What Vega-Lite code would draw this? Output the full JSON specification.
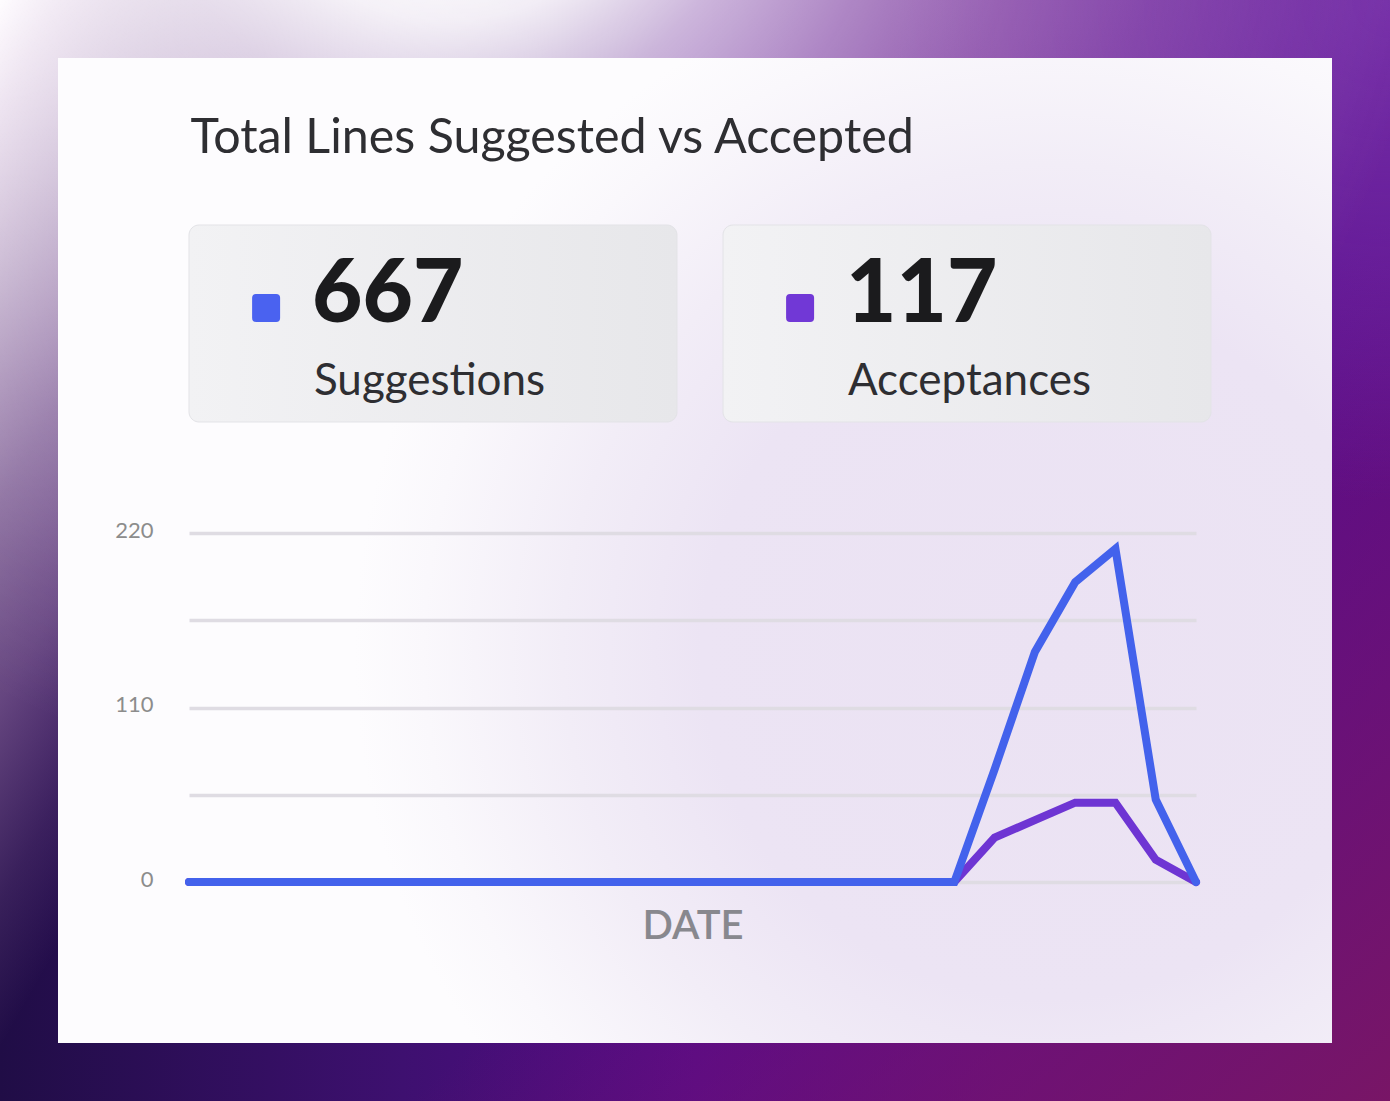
{
  "$schema": "https://vega.github.io/schema/vega-lite/v6.json",
  "width": 1390,
  "height": 1101,
  "autosize": {"type": "none"},
  "padding": 0,
  "background": "#5a0a88",
  "view": {
    "stroke": null,
    "fill": {"gradient": "radial", "x1": 0.755, "y1": 0.572, "r1": 0, "x2": 0.755, "y2": 0.572, "r2": 0.5,
      "stops": [{"offset": 0, "color": "#ebe2f3"}, {"offset": 0.5, "color": "#ece4f4"}, {"offset": 0.7, "color": "#f2edf7"}, {"offset": 0.9, "color": "#faf8fc"}, {"offset": 1, "color": "#fdfcfe"}]}
  },
  "config": {"font": "Lato"},
  "layer": [
    {
      "data": {"values": [{}]},
      "mark": {"type": "rect", "filled": false, "strokeWidth": 116,
        "stroke": {"gradient": "linear", "x1": 0, "y1": 0, "x2": 1, "y2": 0,
          "stops": [{"offset": 0, "color": "#200d46"}, {"offset": 0.29, "color": "#3e1070"}, {"offset": 0.5, "color": "#570a8a"}, {"offset": 0.72, "color": "#600c88"}, {"offset": 1, "color": "#580c8c"}]}},
      "encoding": {}
    },
    {
      "data": {"values": [{}]},
      "mark": {"type": "rect", "filled": false, "strokeWidth": 116,
        "stroke": {"gradient": "linear", "x1": 0.6, "y1": 0.65, "x2": 1, "y2": 1,
          "stops": [{"offset": 0, "color": "rgba(122,22,100,0)"}, {"offset": 1, "color": "rgba(122,22,100,0.95)"}]}},
      "encoding": {}
    },
    {
      "data": {"values": [{}]},
      "mark": {"type": "rect", "filled": false, "strokeWidth": 116,
        "stroke": {"gradient": "radial", "x1": 1, "y1": 0.104, "r1": 0, "x2": 1, "y2": 0.104, "r2": 0.36,
          "stops": [{"offset": 0, "color": "rgba(122,52,172,0.85)"}, {"offset": 0.5, "color": "rgba(122,52,172,0.45)"}, {"offset": 1, "color": "rgba(122,52,172,0)"}]}},
      "encoding": {}
    },
    {
      "data": {"values": [{}]},
      "mark": {"type": "rect", "filled": false, "strokeWidth": 116,
        "stroke": {"gradient": "linear", "x1": 0, "y1": 0, "x2": 0.358, "y2": 0.162,
          "stops": [{"offset": 0, "color": "rgba(255,250,255,1)"}, {"offset": 0.1, "color": "rgba(255,240,255,0.88)"}, {"offset": 0.29, "color": "rgba(255,230,255,0.66)"}, {"offset": 0.48, "color": "rgba(255,212,255,0.46)"}, {"offset": 0.67, "color": "rgba(255,195,255,0.31)"}, {"offset": 0.86, "color": "rgba(255,185,255,0.11)"}, {"offset": 1, "color": "rgba(255,185,255,0)"}]}},
      "encoding": {}
    },
    {
      "data": {"values": [{}]},
      "mark": {"type": "rect", "filled": false, "strokeWidth": 116,
        "stroke": {"gradient": "radial", "x1": 0.324, "y1": -0.04, "r1": 0, "x2": 0.324, "y2": -0.04, "r2": 0.72,
          "stops": [{"offset": 0, "color": "rgba(255,255,255,1)"}, {"offset": 0.15, "color": "rgba(255,255,255,0.99)"}, {"offset": 0.22, "color": "rgba(255,255,255,0.92)"}, {"offset": 0.32, "color": "rgba(255,255,255,0.7)"}, {"offset": 0.45, "color": "rgba(255,255,255,0.5)"}, {"offset": 0.585, "color": "rgba(255,255,255,0.33)"}, {"offset": 0.73, "color": "rgba(255,255,255,0.18)"}, {"offset": 0.873, "color": "rgba(255,255,255,0.07)"}, {"offset": 1, "color": "rgba(255,255,255,0)"}]}},
      "encoding": {}
    },
    {
      "data": {"values": [{"metric": "Suggestions", "total": 667}, {"metric": "Acceptances", "total": 117}]},
      "layer": [
        {
          "mark": {"type": "rect", "cornerRadius": 10, "stroke": "#e3e3e7", "strokeWidth": 1,
            "fill": {"gradient": "linear", "x1": 0, "y1": 0, "x2": 1, "y2": 0, "stops": [{"offset": 0, "color": "#f2f2f4"}, {"offset": 1, "color": "#e7e7ea"}]}},
          "encoding": {
            "x": {"field": "metric", "type": "nominal", "scale": {"type": "band", "domain": ["Suggestions", "Acceptances"], "range": [189, 1211], "paddingInner": 0.0861, "paddingOuter": 0}, "axis": null},
            "y": {"datum": "KPI", "type": "nominal", "scale": {"type": "band", "domain": ["Title", "KPI"], "range": [28, 422], "paddingInner": 0, "paddingOuter": 0}, "axis": null}
          }
        },
        {
          "mark": {"type": "point", "filled": true, "opacity": 1, "size": 784, "shape": "M-0.72,-1H0.72Q1,-1,1,-0.72V0.72Q1,1,0.72,1H-0.72Q-1,1,-1,0.72V-0.72Q-1,-1,-0.72,-1Z"},
          "encoding": {
            "x": {"field": "metric", "type": "nominal", "bandPosition": 0.158, "axis": null},
            "y": {"datum": "KPI", "type": "nominal", "bandPosition": 0.421, "axis": null},
            "fill": {"field": "metric", "type": "nominal", "scale": {"domain": ["Suggestions", "Acceptances"], "range": ["#4a62f0", "#7138d6"]}, "legend": null}
          }
        },
        {
          "mark": {"type": "text", "align": "left", "baseline": "alphabetic", "font": "Lato", "fontSize": 87, "fontWeight": 900, "color": "#1b1b1d"},
          "encoding": {
            "x": {"field": "metric", "type": "nominal", "bandPosition": 0.252, "axis": null},
            "y": {"datum": "KPI", "type": "nominal", "bandPosition": 0.492, "axis": null},
            "text": {"field": "total", "type": "quantitative", "format": "d"}
          }
        },
        {
          "mark": {"type": "text", "align": "left", "baseline": "alphabetic", "font": "Lato", "fontSize": 44, "fontWeight": 400, "color": "#2e2e32"},
          "encoding": {
            "x": {"field": "metric", "type": "nominal", "bandPosition": 0.256, "axis": null},
            "y": {"datum": "KPI", "type": "nominal", "bandPosition": 0.863, "axis": null},
            "text": {"field": "metric", "type": "nominal"}
          }
        },
        {
          "data": {"values": [{"title": "Total Lines Suggested vs Accepted"}]},
          "mark": {"type": "text", "align": "left", "baseline": "alphabetic", "font": "Lato", "fontSize": 48.4, "fontWeight": 400, "color": "#2e2e32"},
          "encoding": {
            "x": {"datum": "Suggestions", "type": "nominal", "bandPosition": 0.003, "axis": null},
            "y": {"datum": "Title", "type": "nominal", "bandPosition": 0.635, "axis": null},
            "text": {"field": "title", "type": "nominal"}
          }
        }
      ]
    },
    {
      "data": {"values": [
        {"date": "2023-06-01", "series": "Acceptances", "value": 0},
        {"date": "2023-06-02", "series": "Acceptances", "value": 0},
        {"date": "2023-06-03", "series": "Acceptances", "value": 0},
        {"date": "2023-06-04", "series": "Acceptances", "value": 0},
        {"date": "2023-06-05", "series": "Acceptances", "value": 0},
        {"date": "2023-06-06", "series": "Acceptances", "value": 0},
        {"date": "2023-06-07", "series": "Acceptances", "value": 0},
        {"date": "2023-06-08", "series": "Acceptances", "value": 0},
        {"date": "2023-06-09", "series": "Acceptances", "value": 0},
        {"date": "2023-06-10", "series": "Acceptances", "value": 0},
        {"date": "2023-06-11", "series": "Acceptances", "value": 0},
        {"date": "2023-06-12", "series": "Acceptances", "value": 0},
        {"date": "2023-06-13", "series": "Acceptances", "value": 0},
        {"date": "2023-06-14", "series": "Acceptances", "value": 0},
        {"date": "2023-06-15", "series": "Acceptances", "value": 0},
        {"date": "2023-06-16", "series": "Acceptances", "value": 0},
        {"date": "2023-06-17", "series": "Acceptances", "value": 0},
        {"date": "2023-06-18", "series": "Acceptances", "value": 0},
        {"date": "2023-06-19", "series": "Acceptances", "value": 0},
        {"date": "2023-06-20", "series": "Acceptances", "value": 0},
        {"date": "2023-06-21", "series": "Acceptances", "value": 28},
        {"date": "2023-06-22", "series": "Acceptances", "value": 39},
        {"date": "2023-06-23", "series": "Acceptances", "value": 50},
        {"date": "2023-06-24", "series": "Acceptances", "value": 50},
        {"date": "2023-06-25", "series": "Acceptances", "value": 14},
        {"date": "2023-06-26", "series": "Acceptances", "value": 0},
        {"date": "2023-06-01", "series": "Suggestions", "value": 0},
        {"date": "2023-06-02", "series": "Suggestions", "value": 0},
        {"date": "2023-06-03", "series": "Suggestions", "value": 0},
        {"date": "2023-06-04", "series": "Suggestions", "value": 0},
        {"date": "2023-06-05", "series": "Suggestions", "value": 0},
        {"date": "2023-06-06", "series": "Suggestions", "value": 0},
        {"date": "2023-06-07", "series": "Suggestions", "value": 0},
        {"date": "2023-06-08", "series": "Suggestions", "value": 0},
        {"date": "2023-06-09", "series": "Suggestions", "value": 0},
        {"date": "2023-06-10", "series": "Suggestions", "value": 0},
        {"date": "2023-06-11", "series": "Suggestions", "value": 0},
        {"date": "2023-06-12", "series": "Suggestions", "value": 0},
        {"date": "2023-06-13", "series": "Suggestions", "value": 0},
        {"date": "2023-06-14", "series": "Suggestions", "value": 0},
        {"date": "2023-06-15", "series": "Suggestions", "value": 0},
        {"date": "2023-06-16", "series": "Suggestions", "value": 0},
        {"date": "2023-06-17", "series": "Suggestions", "value": 0},
        {"date": "2023-06-18", "series": "Suggestions", "value": 0},
        {"date": "2023-06-19", "series": "Suggestions", "value": 0},
        {"date": "2023-06-20", "series": "Suggestions", "value": 0},
        {"date": "2023-06-21", "series": "Suggestions", "value": 71},
        {"date": "2023-06-22", "series": "Suggestions", "value": 145},
        {"date": "2023-06-23", "series": "Suggestions", "value": 189},
        {"date": "2023-06-24", "series": "Suggestions", "value": 210},
        {"date": "2023-06-25", "series": "Suggestions", "value": 52},
        {"date": "2023-06-26", "series": "Suggestions", "value": 0}
      ]},
      "mark": {"type": "line", "strokeWidth": 8, "strokeCap": "round", "strokeJoin": "miter"},
      "encoding": {
        "x": {"field": "date", "type": "temporal", "scale": {"range": [189, 1196], "nice": false},
          "axis": {"orient": "bottom", "offset": -219, "labels": false, "ticks": false, "domain": false, "grid": false, "title": "DATE", "titleFont": "Lato", "titleFontSize": 40, "titleFontWeight": 600, "titleColor": "#88888e", "titlePadding": 24}},
        "y": {"field": "value", "type": "quantitative", "scale": {"domain": [0, 220], "range": [882, 533], "nice": false, "zero": true},
          "axis": {"orient": "left", "offset": -170, "values": [0, 55, 110, 165, 220], "labelExpr": "datum.value % 110 === 0 ? datum.label : ''", "domain": false, "ticks": false, "labelPadding": 17, "labelFont": "Lato", "labelFontSize": 22, "labelColor": "#8c8c8c", "labelOffset": -3, "labelBaseline": "middle", "grid": true, "gridColor": "#dfdce3", "gridWidth": 3.5, "title": null}},
        "stroke": {"field": "series", "type": "nominal", "scale": {"domain": ["Acceptances", "Suggestions"], "range": ["#6e35d3", "#4362ec"]}, "legend": null}
      }
    }
  ],
  "resolve": {"scale": {"x": "independent", "y": "independent"}}
}
